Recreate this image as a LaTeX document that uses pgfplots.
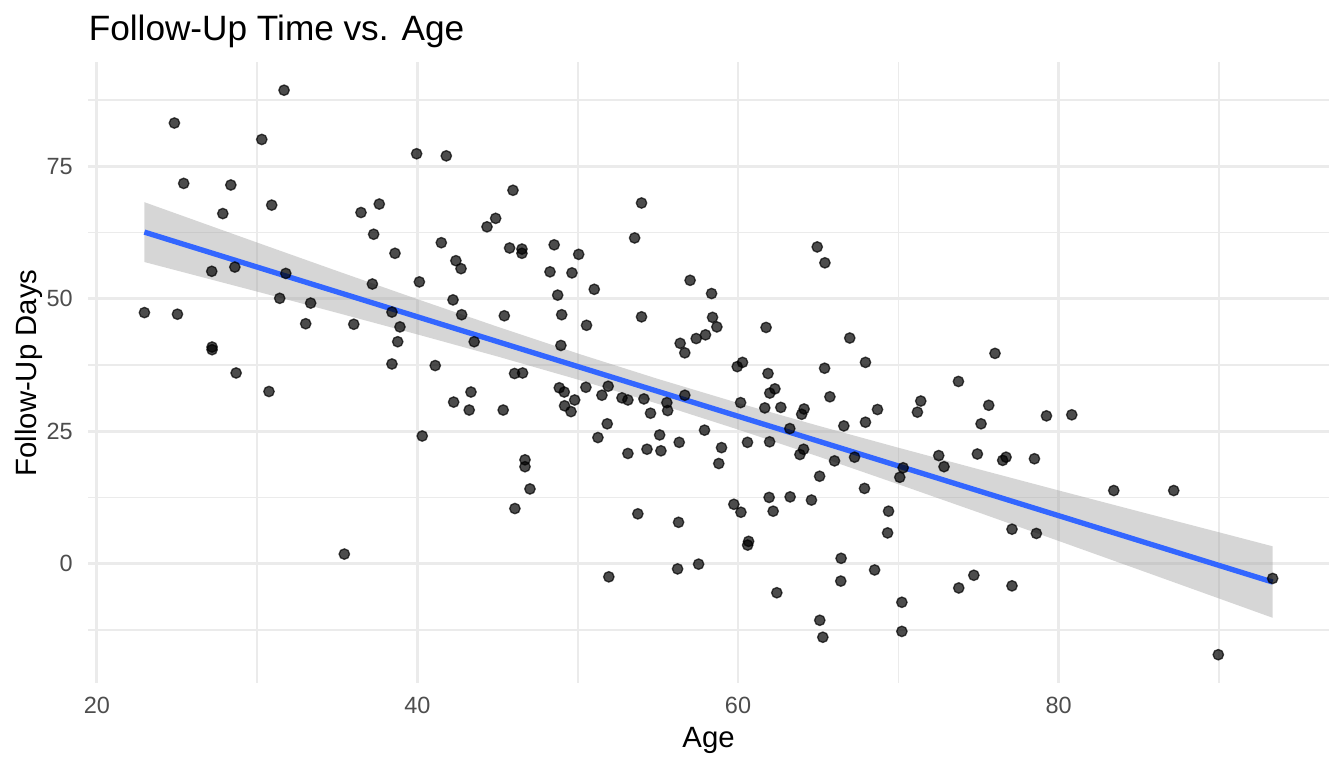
\documentclass[border=0pt]{standalone}
\usepackage{pgfplots}
\pgfplotsset{compat=1.18}
\usepackage{fontspec}
\setmainfont{Liberation Sans}
\definecolor{gridgrey}{HTML}{EBEBEB}
\definecolor{ticktext}{HTML}{4D4D4D}
\definecolor{fitblue}{HTML}{3366FF}
\begin{document}
\begin{tikzpicture}
\useasboundingbox (0,0) rectangle (504pt,288pt);
\begin{axis}[
  at={(33pt,31.9pt)}, anchor=south west,
  scale only axis, width=465.4pt, height=232.85pt,
  xmin=19.45, xmax=96.87, ymin=-22.53, ymax=94.73,
  axis line style={draw=none}, tick style={draw=none},
  major tick length=0pt, minor tick length=0pt,
  xtick={20,40,60,80}, ytick={0,25,50,75},
  minor xtick={30,50,70,90}, minor ytick={-12.5,12.5,37.5,62.5,87.5},
  xmajorgrids, ymajorgrids, xminorgrids, yminorgrids,
  major grid style={draw=gridgrey, line width=1.07pt},
  minor grid style={draw=gridgrey, line width=0.6pt},
  /pgf/number format/assume math mode=true,
  ticklabel style={font=\fontsize{8.8}{10}\selectfont, text=ticktext},
  xticklabel style={anchor=north, inner sep=0pt, yshift=-5.3pt},
  yticklabel style={anchor=east, inner sep=0pt, xshift=-5.5pt},
  clip=false,
]
\addplot[only marks, mark=*, mark size=1.95pt,
  mark options={fill=black, draw=black, opacity=0.7, line width=0.5pt}]
coordinates {
(31.68,89.4) (24.84,83.2) (30.29,80.1) (25.42,71.8) (28.36,71.5) (30.91,67.7)
(27.86,66.1) (36.48,66.3) (37.62,67.9) (37.27,62.2) (38.60,58.6) (27.17,55.2)
(28.61,56.0) (31.79,54.8) (37.19,52.8) (31.41,50.1) (33.34,49.2) (22.97,47.4)
(25.03,47.1) (33.03,45.3) (36.03,45.2) (38.41,47.5) (38.91,44.7) (38.77,41.9)
(27.19,40.9) (27.19,40.4) (38.41,37.7) (28.69,36.0) (30.74,32.5) (35.44,1.8)
(39.95,77.4) (41.80,77.0) (45.96,70.5) (53.98,68.1) (44.88,65.2) (44.34,63.6)
(53.55,61.5) (41.49,60.6) (48.53,60.2) (45.75,59.6) (46.52,59.4) (46.52,58.6)
(50.06,58.4) (42.40,57.2) (42.72,55.7) (48.27,55.1) (49.64,54.9) (57.01,53.5)
(40.12,53.2) (51.03,51.8) (58.35,51.0) (48.75,50.7) (42.22,49.8) (42.76,47.0)
(45.42,46.8) (49.00,47.0) (53.98,46.6) (58.41,46.5) (58.68,44.7) (50.55,45.0)
(57.97,43.2) (57.39,42.5) (56.39,41.6) (56.68,39.8) (43.54,41.9) (48.95,41.2)
(41.11,37.4)
(64.94,59.8) (65.42,56.8) (61.75,44.6) (66.97,42.6) (76.03,39.7) (67.95,38.0)
(60.28,38.0) (59.95,37.2) (65.40,36.9)
(46.06,35.9) (46.56,36.0) (43.34,32.4) (42.26,30.5) (43.23,29.0) (45.35,29.0)
(48.85,33.2) (49.16,32.4) (50.51,33.3) (51.90,33.5) (49.81,30.9) (49.18,29.8)
(49.58,28.7) (51.51,31.8) (52.76,31.3) (53.13,30.9) (54.13,31.1) (55.56,30.4)
(56.68,31.8) (54.54,28.4) (55.61,28.9) (51.84,26.4) (51.26,23.8) (40.30,24.1)
(55.11,24.3) (57.91,25.2) (56.33,22.9) (53.13,20.8) (54.32,21.6) (55.19,21.3)
(58.97,21.9) (58.80,18.9) (46.71,19.6) (46.71,18.3) (47.02,14.1) (46.08,10.4)
(53.75,9.4) (56.29,7.8) (51.94,-2.5) (56.23,-1.0) (57.54,-0.1)
(61.87,35.9) (73.75,34.4) (61.98,32.2) (62.30,33.0) (65.73,31.5) (60.16,30.4)
(61.67,29.4) (62.67,29.5) (64.12,29.2) (63.97,28.2) (71.40,30.7) (71.19,28.6)
(75.64,29.9) (75.16,26.4) (79.24,27.9) (68.70,29.1) (67.95,26.7) (66.60,26.0)
(63.23,25.5) (60.59,22.9) (61.97,23.0) (64.09,21.6) (63.86,20.6) (66.02,19.4)
(67.27,20.1) (65.09,16.5) (67.89,14.2) (70.30,18.1) (70.09,16.3) (72.52,20.4)
(72.85,18.3) (74.93,20.7) (76.72,20.1) (76.51,19.5) (78.49,19.8) (61.94,12.5)
(63.25,12.6) (64.58,12.0) (62.19,9.9) (59.74,11.2) (60.18,9.7) (69.39,9.9)
(69.33,5.8) (77.09,6.5) (78.61,5.7) (60.66,4.2) (60.60,3.5) (66.43,1.0)
(68.52,-1.2) (66.41,-3.3) (74.71,-2.2) (73.77,-4.6) (77.09,-4.2) (62.42,-5.5)
(70.22,-7.3) (65.10,-10.7) (65.29,-13.9) (70.22,-12.8)
(80.82,28.1) (83.44,13.8) (87.18,13.8) (93.35,-2.8) (89.96,-17.2)
};
% confidence band (upper edge left to right, lower edge right to left)
\addplot[draw=none, fill=black!40, fill opacity=0.4] coordinates {
(22.97,68.25) (30,60.63) (35,55.25) (40,49.94) (45,44.73) (50,39.68)
(55,34.88) (60,30.34) (65,26.04) (70,21.89) (75,17.83) (80,13.82)
(85,9.86) (90,5.92) (93.35,3.27)
(93.35,-10.23) (90,-6.58) (85,-1.14) (80,4.28) (75,9.67) (70,14.99)
(65,20.24) (60,25.32) (55,30.18) (50,34.76) (45,39.11) (40,43.28)
(35,47.35) (30,51.37) (22.97,56.95)
} -- cycle;
\addplot[fitblue, line width=2pt] coordinates {(22.97,62.6) (93.35,-3.48)};
\end{axis}
\node[anchor=base west, inner sep=0pt, font=\fontsize{13.2}{15}\selectfont] at (33.1pt,272.7pt) {Follow-Up Time vs. Age};
\node[rotate=90, anchor=base, inner sep=0pt, font=\fontsize{11}{13}\selectfont] at (13.5pt,148.1pt) {Follow-Up Days};
\node[anchor=base, inner sep=0pt, font=\fontsize{11}{13}\selectfont] at (265.7pt,7.5pt) {Age};
\end{tikzpicture}
\end{document}
